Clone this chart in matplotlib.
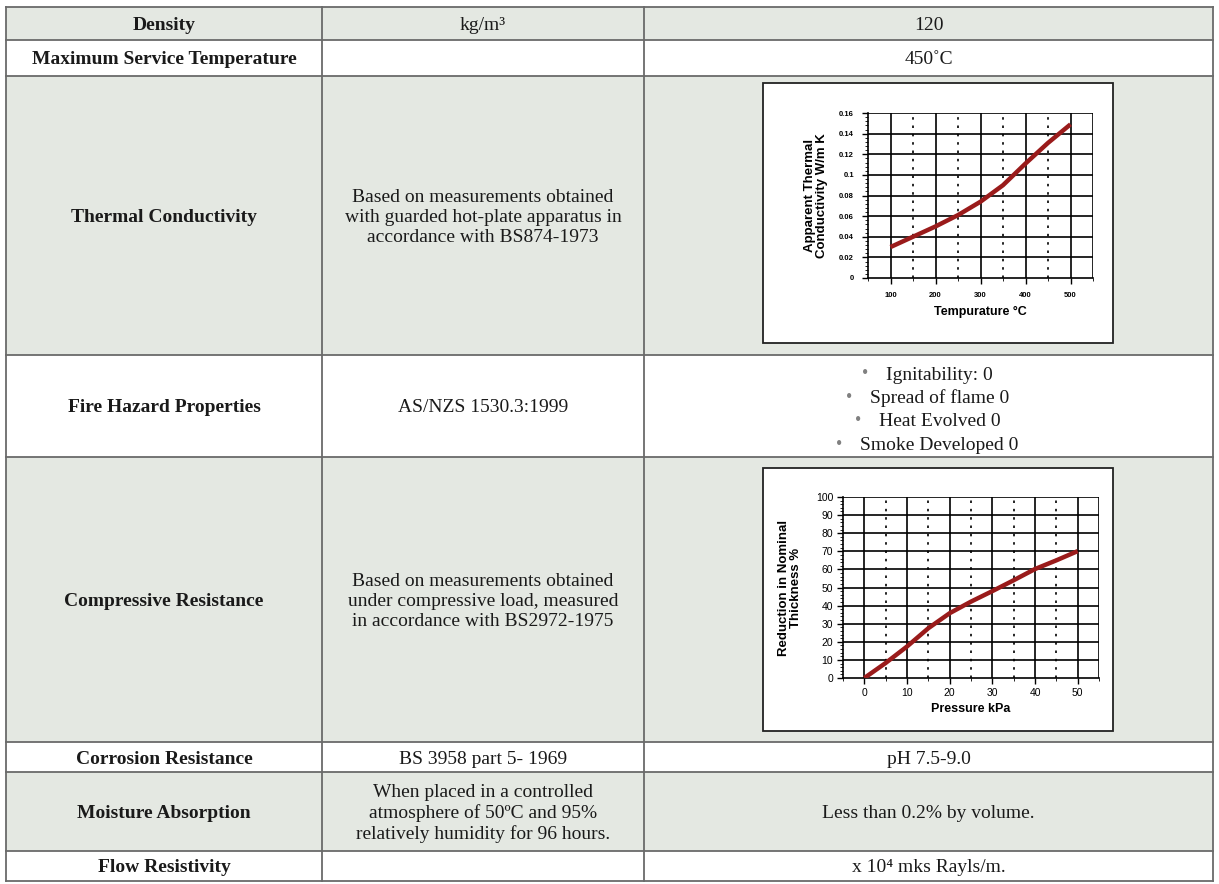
import matplotlib
matplotlib.use('Agg')
import matplotlib.pyplot as plt
from matplotlib.patches import Rectangle
from matplotlib.ticker import MultipleLocator, FixedLocator

W, H = 1219, 884
SERIF = ['Liberation Serif', 'DejaVu Serif']
SANS = ['Liberation Sans', 'DejaVu Sans']

# table contents
properties = ['Density', 'Maximum Service Temperature', 'Thermal Conductivity',
              'Fire Hazard Properties', 'Compressive Resistance', 'Corrosion Resistance',
              'Moisture Absorption', 'Flow Resistivity']
methods = ['kg/m\u00b3', '',
           'Based on measurements obtained\nwith guarded hot-plate apparatus in\naccordance with BS874-1973',
           'AS/NZS 1530.3:1999',
           'Based on measurements obtained\nunder compressive load, measured\nin accordance with BS2972-1975',
           'BS 3958 part 5- 1969',
           'When placed in a controlled\natmosphere of 50\u00baC and 95%\nrelatively humidity for 96 hours.',
           '']
values = ['120', '450\u02daC', None, None, None, 'pH 7.5-9.0',
          'Less than 0.2% by volume.', 'x 10\u2074 mks Rayls/m.']
fire_items = ['Ignitability: 0', 'Spread of flame 0', 'Heat Evolved 0', 'Smoke Developed 0']

# thermal conductivity chart
temp_c = [100, 150, 200, 250, 300, 350, 400, 450, 500]
conductivity = [0.030, 0.040, 0.050, 0.061, 0.074, 0.090, 0.111, 0.131, 0.149]

# compressive resistance chart
pressure_kpa = [0, 5, 10, 15, 20, 25, 30, 35, 40, 45, 50]
reduction_pct = [0, 8.3, 17.4, 27.5, 35.8, 42.2, 48, 54, 60.2, 65, 70.1]

row_edges = [7, 40, 76, 355, 457, 742, 772, 851, 881]
col_edges = [6, 322, 644, 1213]
shade = '#e4e8e2'
line_c = '#6a6a6a'
curve_c = '#9a1b1b'
FS = 14
DY = 2  # nudge text down a little to sit like the reference

fig = plt.figure(figsize=(W / 100, H / 100), dpi=100)
ax = fig.add_axes([0, 0, 1, 1])
ax.set_xlim(0, W)
ax.set_ylim(H, 0)
ax.axis('off')

for i in range(len(properties)):
    y0, y1 = row_edges[i], row_edges[i + 1]
    if i % 2 == 0:
        ax.add_patch(Rectangle((col_edges[0], y0), col_edges[-1] - col_edges[0], y1 - y0,
                               fc=shade, ec='none', zorder=0))
    yc = (y0 + y1) / 2 + DY
    ax.text((col_edges[0] + col_edges[1]) / 2, yc, properties[i], ha='center', va='center',
            fontsize=FS, fontweight='bold', family=SERIF, color='#1a1a1a')
    if methods[i]:
        ax.text((col_edges[1] + col_edges[2]) / 2, yc, methods[i], ha='center', va='center',
                fontsize=FS, family=SERIF, color='#1a1a1a', linespacing=1.25)
    if values[i]:
        ax.text((col_edges[2] + col_edges[3]) / 2, yc, values[i], ha='center', va='center',
                fontsize=FS, family=SERIF, color='#1a1a1a')

for y in row_edges:
    ax.plot([col_edges[0], col_edges[-1]], [y, y], color=line_c, lw=1.3, zorder=2)
for x in col_edges:
    ax.plot([x, x], [row_edges[0], row_edges[-1]], color=line_c, lw=1.3, zorder=2)

# bulleted list in fire hazard cell
xc = (col_edges[2] + col_edges[3]) / 2
fig.canvas.draw()
rend = fig.canvas.get_renderer()
for k, item in enumerate(fire_items):
    y = 373 + DY + k * 23.4
    t = ax.text(xc + 11, y, item, ha='center', va='center', fontsize=FS,
                family=SERIF, color='#1a1a1a')
    bb = t.get_window_extent(renderer=rend)
    ax.text(bb.x0 - 21, y - 1, '\u2022', ha='center', va='center', fontsize=13,
            family=SERIF, color='#808080')

# chart frames
for (x0, y0, x1, y1) in [(763, 83, 1113, 343), (763, 468, 1113, 731)]:
    ax.add_patch(Rectangle((x0, y0), x1 - x0, y1 - y0, fc='white', ec='#222222', lw=1.3, zorder=3))


def px_axes(x0, y0, x1, y1):
    return fig.add_axes([x0 / W, 1 - y1 / H, (x1 - x0) / W, (y1 - y0) / H])


def style_chart(a, solid_x, dotted_x, ygrid):
    for x in solid_x:
        a.axvline(x, color='black', lw=1.2, zorder=1)
    for x in dotted_x:
        a.axvline(x, color='black', lw=1.2, ls=(0, (1.5, 3.5)), zorder=1)
    for y in ygrid:
        a.axhline(y, color='black', lw=1.2, zorder=1)
    for s in ['top', 'right']:
        a.spines[s].set_visible(False)
    for s in ['left', 'bottom']:
        a.spines[s].set_linewidth(1.2)
    a.tick_params(which='major', direction='out', length=4, width=1, pad=6)
    a.tick_params(which='minor', direction='out', length=2, width=0.6)


# thermal conductivity
a1 = px_axes(868, 113, 1093, 278)
a1.plot(temp_c, conductivity, color=curve_c, lw=3.2, solid_capstyle='butt',
        solid_joinstyle='round', zorder=3)
a1.set_xlim(50, 550)
a1.set_ylim(0, 0.16)
yt = [0.02 * i for i in range(9)]
style_chart(a1, [100, 200, 300, 400, 500, 550], [150, 250, 350, 450], yt[1:])
a1.set_xticks([100, 200, 300, 400, 500])
a1.xaxis.set_minor_locator(FixedLocator([50, 150, 250, 350, 450, 550]))
a1.set_yticks(yt)
a1.set_yticklabels(['0', '0.02', '0.04', '0.06', '0.08', '0.1', '0.12', '0.14', '0.16'])
a1.yaxis.set_minor_locator(MultipleLocator(0.004))
for lab in a1.get_xticklabels() + a1.get_yticklabels():
    lab.set_fontsize(5.5)
    lab.set_fontweight('bold')
    lab.set_family(SANS)
a1.set_xlabel('Tempurature \u00b0C', fontsize=9, fontweight='bold', family=SANS, labelpad=5)
a1.set_ylabel('Apparent Thermal\nConductivity W/m K', fontsize=9.5, fontweight='bold',
              family=SANS, labelpad=8, linespacing=1.0)

# compressive resistance
a2 = px_axes(843, 497, 1099, 678)
a2.plot(pressure_kpa, reduction_pct, color=curve_c, lw=3.2, solid_capstyle='butt',
        solid_joinstyle='round', zorder=3)
a2.set_xlim(-5, 55)
a2.set_ylim(0, 100)
style_chart(a2, [0, 10, 20, 30, 40, 50, 55], [5, 15, 25, 35, 45], list(range(10, 101, 10)))
a2.set_xticks([0, 10, 20, 30, 40, 50])
a2.xaxis.set_minor_locator(FixedLocator([-5, 5, 15, 25, 35, 45, 55]))
a2.set_yticks(list(range(0, 101, 10)))
a2.yaxis.set_minor_locator(MultipleLocator(2))
a2.tick_params(which='major', pad=3)
for lab in a2.get_xticklabels() + a2.get_yticklabels():
    lab.set_fontsize(7.5)
    lab.set_family(SANS)
a2.set_xlabel('Pressure kPa', fontsize=9, fontweight='bold', family=SANS, labelpad=4)
a2.set_ylabel('Reduction in Nominal\nThickness %', fontsize=9.5, fontweight='bold',
              family=SANS, labelpad=10, linespacing=1.0)

fig.savefig('out.png', dpi=100)
